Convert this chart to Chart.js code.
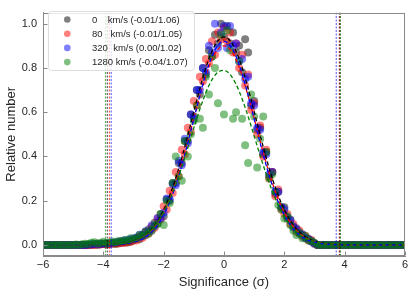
<!DOCTYPE html>
<html lang="en">
<head>
  <meta charset="UTF-8" />
  <title>Significance distribution</title>
  <script src="https://cdn.jsdelivr.net/npm/chart.js"></script>
  <style>
    html, body {
      margin: 0;
      padding: 0;
      background: #fff;
    }
    #chart-container {
      width: 415px;
      height: 294px;
    }
  </style>
</head>
<body>
  <div id="chart-container">
    <canvas id="sigChart" width="415" height="294"></canvas>
  </div>

  <script>
    // sample positions (sigma) shared by all point series
    const sigmaGrid = [
      -6, -5.9, -5.8, -5.7, -5.6, -5.5, -5.4, -5.3, -5.2, -5.1, -5, -4.9, -4.8, -4.7, -4.6,
      -4.5, -4.4, -4.3, -4.2, -4.1, -4, -3.9, -3.8, -3.7, -3.6, -3.5, -3.4, -3.3, -3.2, -3.1,
      -3, -2.9, -2.8, -2.7, -2.6, -2.5, -2.4, -2.3, -2.2, -2.1,
      -2, -1.9, -1.8, -1.7, -1.6, -1.5, -1.4, -1.3, -1.2, -1.1,
      -1, -0.9, -0.8, -0.7, -0.6, -0.5, -0.4, -0.3, -0.2, -0.1,
      0, 0.1, 0.2, 0.3, 0.4, 0.5, 0.6, 0.7, 0.8, 0.9,
      1, 1.1, 1.2, 1.3, 1.4, 1.5, 1.6, 1.7, 1.8, 1.9,
      2, 2.1, 2.2, 2.3, 2.4, 2.5, 2.6, 2.7, 2.8, 2.9, 3,
      3.1, 3.2, 3.3, 3.4, 3.5, 3.6, 3.7, 3.8, 3.9, 4, 4.1, 4.2, 4.3, 4.4, 4.5,
      4.6, 4.7, 4.8, 4.9, 5, 5.1, 5.2, 5.3, 5.4, 5.5, 5.6, 5.7, 5.8, 5.9, 6
    ];

    const legendLabels = [
      '0    km/s (-0.01/1.06)',
      '80   km/s (-0.01/1.05)',
      '320  km/s (0.00/1.02)',
      '1280 km/s (-0.04/1.07)'
    ];

    const counts0 = [
      0, 0, 0, 0, 0, 0, 0, 0, 0, 0, 0, 0, 0, 0, 0,
      0, 0, 0.002, 0, 0.003, 0.004, 0.002, 0.005, 0.006, 0.004, 0.008, 0.010, 0.012, 0.011, 0.016,
      0.020, 0.032, 0.026, 0.046, 0.044, 0.070, 0.064, 0.100, 0.098, 0.140,
      0.130, 0.205, 0.200, 0.280, 0.280, 0.370, 0.370, 0.470, 0.470, 0.590,
      0.580, 0.700, 0.680, 0.800, 0.770, 0.880, 0.850, 0.950, 0.910, 1.000,
      0.940, 0.990, 0.910, 0.960, 0.870, 0.900, 0.780, 0.930, 0.870, 0.630,
      0.650, 0.520, 0.530, 0.410, 0.420, 0.310, 0.330, 0.230, 0.240, 0.170,
      0.170, 0.120, 0.115, 0.080, 0.075, 0.050, 0.048, 0.030, 0.028, 0.015, 0.005,
      0, 0, 0, 0, 0, 0, 0, 0, 0, 0, 0, 0, 0, 0, 0,
      0, 0, 0, 0, 0, 0, 0, 0, 0, 0, 0, 0, 0, 0, 0
    ];
    const counts80 = [
      0, 0, 0, 0, 0, 0, 0, 0, 0, 0, 0, 0, 0, 0, 0,
      0, 0.001, 0, 0.003, 0.002, 0.004, 0.005, 0.003, 0.006, 0.007, 0.006, 0.010, 0.009, 0.014, 0.013,
      0.022, 0.020, 0.038, 0.032, 0.058, 0.052, 0.082, 0.078, 0.120, 0.115,
      0.175, 0.160, 0.245, 0.235, 0.330, 0.310, 0.430, 0.410, 0.530, 0.510,
      0.650, 0.630, 0.760, 0.740, 0.840, 0.820, 0.920, 0.860, 0.960, 0.930,
      0.980, 0.920, 0.960, 0.870, 0.910, 0.800, 0.860, 0.720, 0.770, 0.610,
      0.640, 0.500, 0.540, 0.400, 0.430, 0.300, 0.330, 0.220, 0.250, 0.160,
      0.140, 0.140, 0.095, 0.095, 0.060, 0.065, 0.038, 0.042, 0.020, 0.022, 0.008,
      0, 0, 0, 0, 0, 0, 0, 0, 0, 0, 0, 0, 0, 0, 0,
      0, 0, 0, 0, 0, 0, 0, 0, 0, 0, 0, 0, 0, 0, 0
    ];
    const counts320 = [
      0, 0, 0, 0, 0, 0, 0, 0, 0, 0, 0, 0, 0, 0, 0,
      0.002, 0.003, 0.004, 0.005, 0.004, 0.006, 0.008, 0.007, 0.010, 0.012, 0.014, 0.018, 0.020, 0.022, 0.026,
      0.030, 0.030, 0.046, 0.042, 0.062, 0.060, 0.088, 0.085, 0.122, 0.118,
      0.145, 0.210, 0.205, 0.275, 0.270, 0.380, 0.360, 0.480, 0.460, 0.590,
      0.570, 0.700, 0.700, 0.800, 0.780, 0.900, 0.870, 1.000, 0.890, 0.960,
      0.990, 0.890, 0.990, 0.900, 0.910, 0.830, 0.840, 0.750, 0.760, 0.640,
      0.630, 0.530, 0.520, 0.420, 0.410, 0.320, 0.330, 0.240, 0.240, 0.170,
      0.160, 0.125, 0.110, 0.085, 0.070, 0.055, 0.045, 0.032, 0.026, 0.016, 0.006,
      0, 0, 0, 0, 0, 0, 0, 0, 0, 0, 0, 0, 0, 0, 0,
      0, 0, 0, 0, 0, 0, 0, 0, 0, 0, 0, 0, 0, 0, 0
    ];
    const counts1280 = [
      0, 0, 0, 0, 0, 0, 0, 0, 0, 0, 0, 0.002, 0, 0.003, 0.005,
      0.004, 0.010, 0.012, 0.006, 0.009, 0.014, 0.008, 0.011, 0.016, 0.010, 0.018, 0.015, 0.022, 0.018, 0.030,
      0.026, 0.030, 0.045, 0.040, 0.060, 0.050, 0.070, 0.088, 0.095, 0.140,
      0.090, 0.200, 0.190, 0.280, 0.400, 0.310, 0.290, 0.470, 0.400, 0.500,
      0.560, 0.630, 0.570, 0.530, 0.760, 0.680, 0.850, 0.800, 0.640, 0.950,
      0.590, 0.970, 0.880, 0.570, 0.600, 0.830, 0.570, 0.450, 0.370, 0.680,
      0.580, 0.350, 0.480, 0.580, 0.420, 0.300, 0.320, 0.240, 0.180, 0.160,
      0.120, 0.130, 0.090, 0.065, 0.045, 0.055, 0.030, 0.040, 0.020, 0.018, 0.010,
      0, 0, 0, 0, 0, 0, 0, 0, 0, 0, 0, 0, 0, 0, 0,
      0, 0, 0, 0, 0, 0, 0, 0, 0, 0, 0, 0, 0, 0, 0
    ];

    // gaussian fit curves
    const fitX = [
      -6, -4, -3.75, -3.5, -3.25, -3, -2.75, -2.5, -2.25, -2, -1.75, -1.5, -1.25, -1, -0.75, -0.5, -0.25,
      0, 0.25, 0.5, 0.75, 1, 1.25, 1.5, 1.75, 2, 2.25, 2.5, 2.75, 3, 3.25, 3.5, 3.75, 4, 6
    ];
    const fit0 = [
      0, 0.0008, 0.0018, 0.0040, 0.0086, 0.0171, 0.0325, 0.0583, 0.0988, 0.158, 0.241, 0.345, 0.469, 0.602, 0.732, 0.841, 0.914,
      0.940, 0.914, 0.841, 0.732, 0.602, 0.469, 0.345, 0.241, 0.158, 0.0988, 0.0583, 0.0325, 0.0171, 0.0086, 0.0040, 0.0018, 0.0008, 0
    ];
    const fit80 = [
      0, 0.0006, 0.0015, 0.0035, 0.0075, 0.0152, 0.0292, 0.0529, 0.0906, 0.147, 0.224, 0.324, 0.443, 0.572, 0.697, 0.804, 0.875,
      0.900, 0.875, 0.804, 0.697, 0.572, 0.443, 0.324, 0.224, 0.147, 0.0906, 0.0529, 0.0292, 0.0152, 0.0075, 0.0035, 0.0015, 0.0006, 0
    ];
    const fit320 = [
      0, 0.0004, 0.0011, 0.0026, 0.0057, 0.0122, 0.0243, 0.0456, 0.0808, 0.135, 0.211, 0.312, 0.434, 0.569, 0.702, 0.816, 0.893,
      0.920, 0.893, 0.816, 0.702, 0.569, 0.434, 0.312, 0.211, 0.135, 0.0808, 0.0456, 0.0243, 0.0122, 0.0057, 0.0026, 0.0011, 0.0004, 0
    ];
    const fit1280 = [
      0, 0.0008, 0.0019, 0.0042, 0.0088, 0.0172, 0.0320, 0.0562, 0.0936, 0.1476, 0.2203, 0.3114, 0.4168, 0.5283, 0.6339, 0.7202, 0.7749,
      0.7894, 0.7615, 0.6955, 0.6015, 0.4926, 0.3820, 0.2804, 0.1950, 0.1283, 0.0800, 0.0472, 0.0264, 0.0140, 0.0070, 0.0033, 0.0015, 0.0006, 0
    ];

    // vertical cut lines for each series
    const cutLow = [-3.87, -3.80, -3.74, -3.93];
    const cutHigh = [3.84, 3.82, 3.72, 3.86];

    const xTicks = [-6, -4, -2, 0, 2, 4, 6];
    const yTicks = [0, 0.2, 0.4, 0.6, 0.8, 1.0];

    const pointColors = ['rgba(0,0,0,0.5)', 'rgba(255,0,0,0.5)', 'rgba(0,0,255,0.5)', 'rgba(0,128,0,0.5)'];
    const lineColors = ['#000000', '#ff0000', '#0000ff', '#008000'];
    const cutColors = ['rgba(0,0,0,0.75)', 'rgba(255,0,0,0.7)', 'rgba(0,0,255,0.7)', 'rgba(0,128,0,0.7)'];

    const allCounts = [counts0, counts80, counts320, counts1280];
    const allFits = [fit0, fit80, fit320, fit1280];

    const textColor = '#262626';
    const frameColor = '#8a8a8a';
    Chart.defaults.font.family = '"Liberation Sans", Arial, sans-serif';

    const datasets = [];
    allCounts.forEach((ys, i) => {
      datasets.push({
        type: 'scatter',
        data: sigmaGrid.map((x, j) => ({ x: x, y: ys[j] })),
        backgroundColor: pointColors[i],
        borderWidth: 0,
        pointRadius: 4,
        pointHoverRadius: 4,
        clip: 0,
        order: 20 - i
      });
    });
    allFits.forEach((ys, i) => {
      datasets.push({
        type: 'line',
        data: fitX.map((x, j) => ({ x: x, y: ys[j] })),
        borderColor: lineColors[i],
        borderWidth: 1.3,
        borderDash: [4, 2.5],
        pointRadius: 0,
        fill: false,
        cubicInterpolationMode: 'monotone',
        clip: 0,
        order: 10 - i
      });
    });
    [cutLow, cutHigh].forEach(cuts => {
      cuts.forEach((c, i) => {
        datasets.push({
          type: 'line',
          data: [{ x: c, y: -0.05 }, { x: c, y: 1.05 }],
          borderColor: cutColors[i],
          borderWidth: 1,
          borderDash: [2, 1.5],
          pointRadius: 0,
          fill: false,
          order: 2
        });
      });
    });

    // frame on all four sides plus inward ticks, then the legend box
    const framePlugin = {
      id: 'frame',
      afterDraw(chart) {
        const { ctx, chartArea: a, scales } = chart;
        ctx.save();
        ctx.strokeStyle = frameColor;
        ctx.lineWidth = 1;
        const l = Math.round(a.left) + 0.5, r = Math.round(a.right) - 0.5;
        const t = Math.round(a.top) + 0.5, b = Math.round(a.bottom) - 0.5;
        ctx.strokeRect(l, t, r - l, b - t);
        ctx.beginPath();
        xTicks.forEach(v => {
          const px = Math.round(scales.x.getPixelForValue(v)) + 0.5;
          ctx.moveTo(px, b);
          ctx.lineTo(px, b - 4);
        });
        yTicks.forEach(v => {
          const py = Math.round(scales.y.getPixelForValue(v)) + 0.5;
          ctx.moveTo(l, py);
          ctx.lineTo(l + 4, py);
        });
        ctx.stroke();

        // legend
        const bx = 48.5, by = 11.5, bw = 146, bh = 59, rad = 3;
        ctx.beginPath();
        ctx.moveTo(bx + rad, by);
        ctx.arcTo(bx + bw, by, bx + bw, by + bh, rad);
        ctx.arcTo(bx + bw, by + bh, bx, by + bh, rad);
        ctx.arcTo(bx, by + bh, bx, by, rad);
        ctx.arcTo(bx, by, bx + bw, by, rad);
        ctx.closePath();
        ctx.fillStyle = 'rgba(255,255,255,0.8)';
        ctx.fill();
        ctx.strokeStyle = '#dddddd';
        ctx.stroke();

        ctx.font = '9.5px "Liberation Sans", Arial, sans-serif';
        ctx.textBaseline = 'middle';
        ctx.textAlign = 'left';
        legendLabels.forEach((label, i) => {
          const y = 19.5 + i * 14.2;
          ctx.beginPath();
          ctx.arc(67.3, y, 3.3, 0, Math.PI * 2);
          ctx.fillStyle = pointColors[i];
          ctx.fill();
          ctx.fillStyle = textColor;
          ctx.fillText(label, 92, y + 0.5);
        });
        ctx.restore();
      }
    };

    const ctx = document.getElementById('sigChart').getContext('2d');
    new Chart(ctx, {
      type: 'scatter',
      data: { datasets: datasets },
      options: {
        responsive: false,
        animation: false,
        devicePixelRatio: 1,
        layout: { padding: { top: 6, right: 10, left: 0, bottom: 0 } },
        plugins: {
          legend: { display: false },
          tooltip: { enabled: false }
        },
        scales: {
          x: {
            type: 'linear',
            min: -6,
            max: 6,
            afterBuildTicks: s => { s.ticks = xTicks.map(v => ({ value: v })); },
            afterFit: s => { s.height = 38; },
            grid: { display: false, drawTicks: false, tickLength: 0 },
            border: { color: frameColor, width: 1 },
            ticks: {
              autoSkip: false,
              maxRotation: 0,
              padding: 2,
              color: textColor,
              font: { size: 11 },
              callback: v => String(v).replace('-', '\u2212')
            },
            title: {
              display: true,
              text: 'Significance (\u03c3)',
              color: textColor,
              font: { size: 13 },
              padding: { top: 0, bottom: 4 }
            }
          },
          y: {
            type: 'linear',
            min: -0.05,
            max: 1.05,
            afterBuildTicks: s => { s.ticks = yTicks.map(v => ({ value: v })); },
            afterFit: s => { s.width = 43; },
            grid: { display: false, drawTicks: false, tickLength: 0 },
            border: { color: frameColor, width: 1 },
            ticks: {
              autoSkip: false,
              padding: 6,
              color: textColor,
              font: { size: 11 },
              callback: v => Number(v).toFixed(1)
            },
            title: {
              display: true,
              text: 'Relative number',
              color: textColor,
              font: { size: 13 },
              padding: { top: 4, bottom: 0 }
            }
          }
        }
      },
      plugins: [framePlugin]
    });
  </script>
</body>
</html>
